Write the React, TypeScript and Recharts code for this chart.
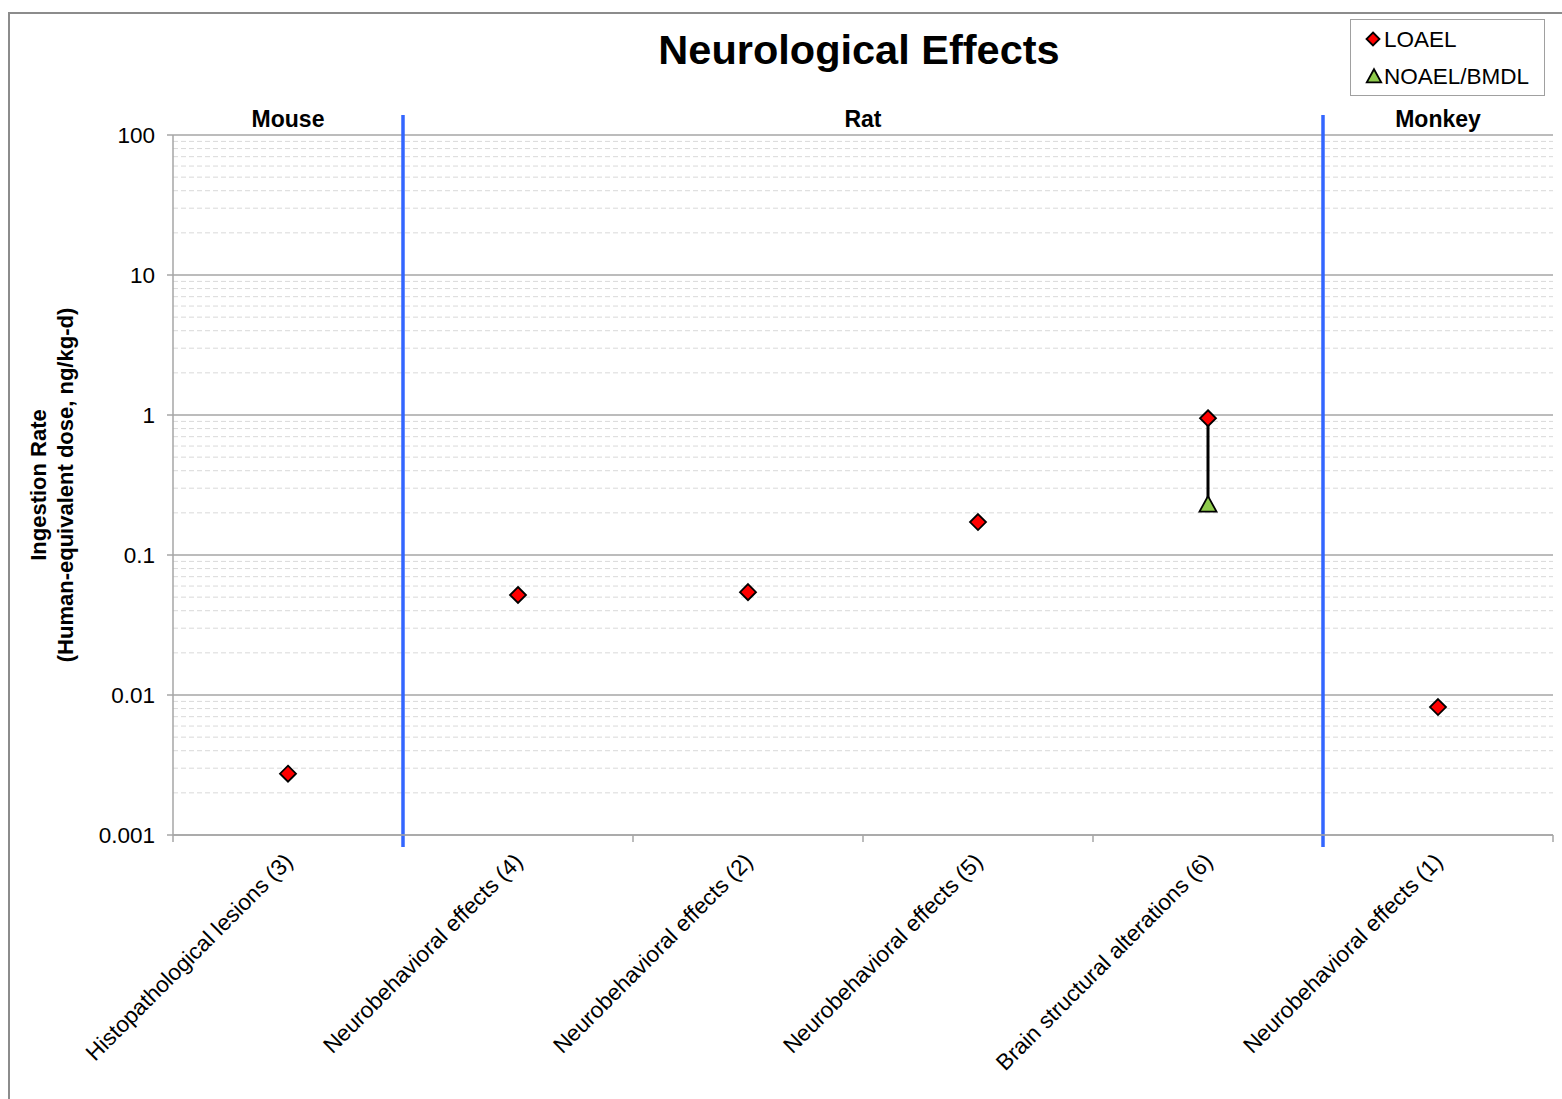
import React from 'react';
import {
  ComposedChart,
  Scatter,
  XAxis,
  YAxis,
  ReferenceLine,
  ReferenceArea,
  Legend,
} from 'recharts';

// Endpoints, one per study
const categories = [
  'Histopathological lesions (3)',
  'Neurobehavioral effects (4)',
  'Neurobehavioral effects (2)',
  'Neurobehavioral effects (5)',
  'Brain structural alterations (6)',
  'Neurobehavioral effects (1)',
];

// Human-equivalent doses, ng/kg-d
const loaelValues = [0.00274, 0.0518, 0.0543, 0.172, 0.948, 0.0082];
const noaelValues: (number | null)[] = [null, null, null, null, 0.231, null];

// Species groups spanning category slots [from, to)
const speciesNames = ['Mouse', 'Rat', 'Monkey'];
const speciesFrom = [0, 1, 5];
const speciesTo = [1, 5, 6];

const yTicks = [0.001, 0.01, 0.1, 1, 10, 100];
const minorSteps = [2, 3, 4, 5, 6, 7, 8, 9];

const FONT = '"Liberation Sans", Arial, sans-serif';
const RED = '#FF0000';
const GREEN = '#8FCB4C';
const BLUE = '#3366FF';
const GRID = '#A6A6A6';
const MINOR = '#D9D9D9';

const rows = categories.map((name, i) => ({ x: i + 0.5, name, loael: loaelValues[i], noael: noaelValues[i] }));
const noaelRows = rows.filter((r) => r.noael !== null);
const pairRows = rows
  .filter((r) => r.noael !== null)
  .flatMap((r) => [
    { x: r.x, v: r.loael },
    { x: r.x, v: r.noael as number },
  ]);

const minorGrid = yTicks.slice(0, -1).flatMap((d) => minorSteps.map((m) => +(d * m).toPrecision(3)));
const boundaries = categories.map((_, i) => i).concat(categories.length);
const centers = rows.map((r) => r.x);

const Diamond = (props: any) => {
  const { cx, cy } = props;
  if (cx == null || cy == null) return null;
  const r = props.r ?? 8;
  return (
    <path
      d={`M${cx},${cy - r} L${cx + r},${cy} L${cx},${cy + r} L${cx - r},${cy} Z`}
      fill={RED}
      stroke="#000"
      strokeWidth={1.8}
    />
  );
};

const Triangle = (props: any) => {
  const { cx, cy } = props;
  if (cx == null || cy == null) return null;
  const s = props.s ?? 1;
  return (
    <path
      d={`M${cx},${cy - 8 * s} L${cx + 8.5 * s},${cy + 7.5 * s} L${cx - 8.5 * s},${cy + 7.5 * s} Z`}
      fill={GREEN}
      stroke="#000"
      strokeWidth={1.8}
      strokeLinejoin="miter"
    />
  );
};

const NoShape = () => null;

const CategoryTick = (props: any) => {
  const { x, y, payload } = props;
  const idx = centers.indexOf(payload.value);
  const text = idx >= 0 ? categories[idx] : '';
  const ax = x + 6;
  const ay = y + 20;
  return (
    <text
      x={ax}
      y={ay}
      transform={`rotate(-45 ${ax} ${ay})`}
      textAnchor="end"
      fontFamily={FONT}
      fontSize={22.5}
      fill="#000"
    >
      {text}
    </text>
  );
};

const YTitle = (props: any) => {
  const vb = props.viewBox || {};
  const cy = vb.y + vb.height / 2;
  return (
    <g fontFamily={FONT} fontSize={22} fontWeight="bold" fill="#000">
      <text x={46} y={cy} transform={`rotate(-90 46 ${cy})`} textAnchor="middle">
        Ingestion Rate
      </text>
      <text x={73} y={cy} transform={`rotate(-90 73 ${cy})`} textAnchor="middle">
        (Human-equivalent dose, ng/kg-d)
      </text>
    </g>
  );
};

const legendItems = [
  { label: 'LOAEL', kind: 'diamond' },
  { label: 'NOAEL/BMDL', kind: 'triangle' },
];

const LegendBox = () => (
  <svg width={196} height={78} style={{ display: 'block' }}>
    <rect x={0.5} y={0.5} width={194} height={76} fill="#fff" stroke="#A0A0A0" strokeWidth={1} />
    {legendItems.map((it, i) => {
      const cy = 20 + i * 37;
      return (
        <g key={it.label}>
          {it.kind === 'diamond' ? <Diamond cx={23} cy={cy} r={6.5} /> : <Triangle cx={24} cy={cy} s={0.85} />}
          <text x={34} y={cy + 8} fontFamily={FONT} fontSize={22.5} fill="#000">
            {it.label}
          </text>
        </g>
      );
    })}
  </svg>
);

export default function App() {
  return (
    <div
      style={{
        position: 'absolute',
        left: 0,
        top: 0,
        width: 1562,
        height: 1099,
        background: '#fff',
        overflow: 'hidden',
      }}
    >
      <div
        style={{
          position: 'absolute',
          left: 8,
          top: 12,
          width: 1600,
          height: 1200,
          border: '2px solid #8C8C8C',
          boxSizing: 'border-box',
        }}
      />
      <div
        style={{
          position: 'absolute',
          left: 559,
          top: 24,
          width: 600,
          textAlign: 'center',
          fontFamily: FONT,
          fontWeight: 'bold',
          fontSize: 41.5,
          lineHeight: '52px',
          color: '#000',
        }}
      >
        Neurological Effects
      </div>
      <div style={{ position: 'absolute', left: 0, top: 0 }}>
        <ComposedChart
          width={1562}
          height={1099}
          margin={{ top: 135, right: 9, bottom: 234, left: 113 }}
          style={{ fontFamily: FONT }}
        >
          <XAxis
            xAxisId="cat"
            type="number"
            dataKey="x"
            domain={[0, categories.length]}
            ticks={centers}
            interval={0}
            allowDataOverflow
            height={30}
            tickLine={false}
            axisLine={{ stroke: GRID, strokeWidth: 1.5 }}
            tick={<CategoryTick />}
          />
          <YAxis
            scale="log"
            type="number"
            domain={[0.001, 100]}
            ticks={yTicks}
            interval={0}
            allowDataOverflow
            width={60}
            tickSize={6}
            tickMargin={12}
            axisLine={{ stroke: GRID, strokeWidth: 1.5 }}
            tickLine={{ stroke: GRID, strokeWidth: 1.5 }}
            tick={{ fill: '#000', fontSize: 22.5, fontFamily: FONT }}
            tickFormatter={(v: number) => String(v)}
            label={{ content: <YTitle /> }}
          />

          {minorGrid.map((v) => (
            <ReferenceLine
              key={`m${v}`}
              xAxisId="cat"
              y={v}
              stroke={MINOR}
              strokeDasharray="5 3"
              strokeWidth={1}
            />
          ))}
          {yTicks.map((v) => (
            <ReferenceLine key={`g${v}`} xAxisId="cat" y={v} stroke={GRID} strokeWidth={1.5} />
          ))}

          {boundaries.map((b) => (
            <ReferenceLine
              key={`t${b}`}
              xAxisId="cat"
              x={b}
              ifOverflow="visible"
              shape={(p: any) => {
                const yb = Math.max(p.y1, p.y2);
                return <line x1={p.x1} x2={p.x1} y1={yb} y2={yb + 7} stroke={GRID} strokeWidth={1.5} />;
              }}
            />
          ))}

          {speciesNames.map((s, i) => (
            <ReferenceArea
              key={s}
              xAxisId="cat"
              x1={speciesFrom[i]}
              x2={speciesTo[i]}
              fillOpacity={0}
              strokeOpacity={0}
              ifOverflow="visible"
              label={{
                value: s,
                position: 'top',
                offset: 8,
                fill: '#000',
                fontSize: 23,
                fontWeight: 'bold',
                fontFamily: FONT,
              }}
            />
          ))}

          {speciesFrom.slice(1).map((b) => (
            <ReferenceLine
              key={`s${b}`}
              xAxisId="cat"
              x={b}
              ifOverflow="visible"
              shape={(p: any) => {
                const yt = Math.min(p.y1, p.y2);
                const yb = Math.max(p.y1, p.y2);
                return <line x1={p.x1} x2={p.x1} y1={yt - 20} y2={yb + 12} stroke={BLUE} strokeWidth={3.5} />;
              }}
            />
          ))}

          <Scatter
            xAxisId="cat"
            name="range"
            data={pairRows}
            dataKey="v"
            line={{ stroke: '#000', strokeWidth: 3 }}
            shape={<NoShape />}
            legendType="none"
            isAnimationActive={false}
          />
          <Scatter
            xAxisId="cat"
            name="NOAEL/BMDL"
            data={noaelRows}
            dataKey="noael"
            shape={<Triangle />}
            isAnimationActive={false}
          />
          <Scatter
            xAxisId="cat"
            name="LOAEL"
            data={rows}
            dataKey="loael"
            shape={<Diamond />}
            isAnimationActive={false}
          />

          <Legend
            layout="vertical"
            align="center"
            verticalAlign="middle"
            wrapperStyle={{ left: 1350, top: 19, width: 196, height: 78 }}
            content={() => <LegendBox />}
          />
        </ComposedChart>
      </div>
    </div>
  );
}
